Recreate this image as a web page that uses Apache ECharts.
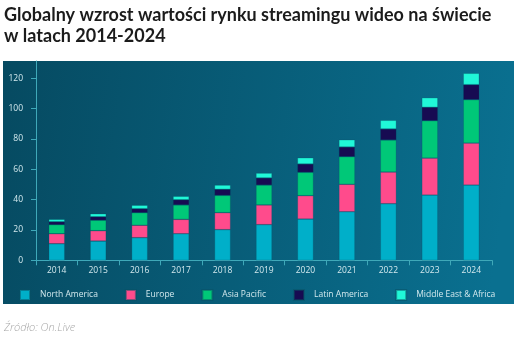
<!DOCTYPE html>
<html><head><meta charset="utf-8">
<script src="https://cdn.jsdelivr.net/npm/echarts@6/dist/echarts.min.js"></script>
<style>html,body{margin:0;padding:0;background:#fff;}#c{width:517px;height:343px;}</style>
</head><body><div id="c"></div>
<script>
const years = ['2014','2015','2016','2017','2018','2019','2020','2021','2022','2023','2024'];
const northAmerica = [10.9,12.7,14.9,17.5,20.2,23.5,27.2,32.0,37.3,43.0,49.6];
const europe       = [6.6,6.8,8.2,9.5,11.2,13.0,15.4,18.1,20.9,24.4,27.7];
const asiaPacific  = [6.0,6.9,8.3,9.5,11.4,13.1,15.4,18.2,21.1,24.6,28.6];
const latinAmerica = [1.9,2.3,2.6,3.4,4.0,4.7,5.5,6.4,7.3,8.9,9.9];
const middleEastAfrica = [1.6,2.0,2.3,2.3,2.8,3.2,4.1,4.8,5.7,6.3,7.5];
const yTicks = [0,20,40,60,80,100,120];

const seriesDefs = [
  ['North America', northAmerica, '#00afc9'],
  ['Europe', europe, '#ff4b8c'],
  ['Asia Pacific', asiaPacific, '#00c878'],
  ['Latin America', latinAmerica, '#170b52'],
  ['Middle East & Africa', middleEastAfrica, '#20f8d8']
];

const chart = echarts.init(document.getElementById('c'), null, {renderer:'canvas'});
const axisCol = '#3fa9b9';
const labelCol = '#d3e9ee';
chart.setOption({
  animation: false,
  textStyle: {fontFamily: 'Open Sans'},
  graphic: [{
    type: 'rect', z: -10, silent: true,
    shape: {x: 3, y: 61, width: 511, height: 243},
    style: {fill: new echarts.graphic.LinearGradient(0, 0, 1, 0.3, [
      {offset: 0, color: '#064a61'},
      {offset: 1, color: '#0a7090'}
    ])}
  }],
  title: [{
    text: 'Globalny wzrost wartości rynku streamingu wideo na świecie\nw latach 2014-2024',
    left: 4, top: 5, padding: 0,
    textStyle: {fontFamily: 'Lato', fontWeight: 'bold', fontSize: 18, lineHeight: 21, color: '#1b1b1b'}
  }, {
    text: 'Źródło: On.Live',
    left: 4, top: 322, padding: 0,
    textStyle: {fontFamily: 'Open Sans', fontStyle: 'italic', fontWeight: 300, fontSize: 11, color: '#a8a8a8'}
  }],
  legend: {
    left: 19, top: 289, padding: 0,
    icon: 'rect', itemWidth: 10, itemHeight: 10, itemGap: 27,
    textStyle: {color: labelCol, fontSize: 8.5, padding: [0,0,0,5]},
    data: seriesDefs.map(s => s[0])
  },
  grid: {left: 36, right: 25, top: 61, bottom: 82.7},
  xAxis: {
    type: 'category', data: years,
    axisLine: {lineStyle: {color: axisCol, width: 1}},
    axisTick: {show: true, length: 5, lineStyle: {color: axisCol}},
    axisLabel: {color: labelCol, fontSize: 8.5, margin: 6}
  },
  yAxis: {
    type: 'value', min: 0, max: 131.4,
    axisLine: {show: true, lineStyle: {color: axisCol, width: 1}},
    axisTick: {show: true, length: 5, lineStyle: {color: axisCol}, customValues: yTicks},
    axisLabel: {color: labelCol, fontSize: 8.5, margin: 13, customValues: yTicks},
    splitLine: {show: false}
  },
  series: seriesDefs.map(s => ({
    name: s[0], type: 'bar', stack: 'total', data: s[1], barWidth: 16,
    itemStyle: {color: s[2], borderColor: 'rgba(8,80,100,0.5)', borderWidth: 0.5}
  }))
});
</script></body></html>
